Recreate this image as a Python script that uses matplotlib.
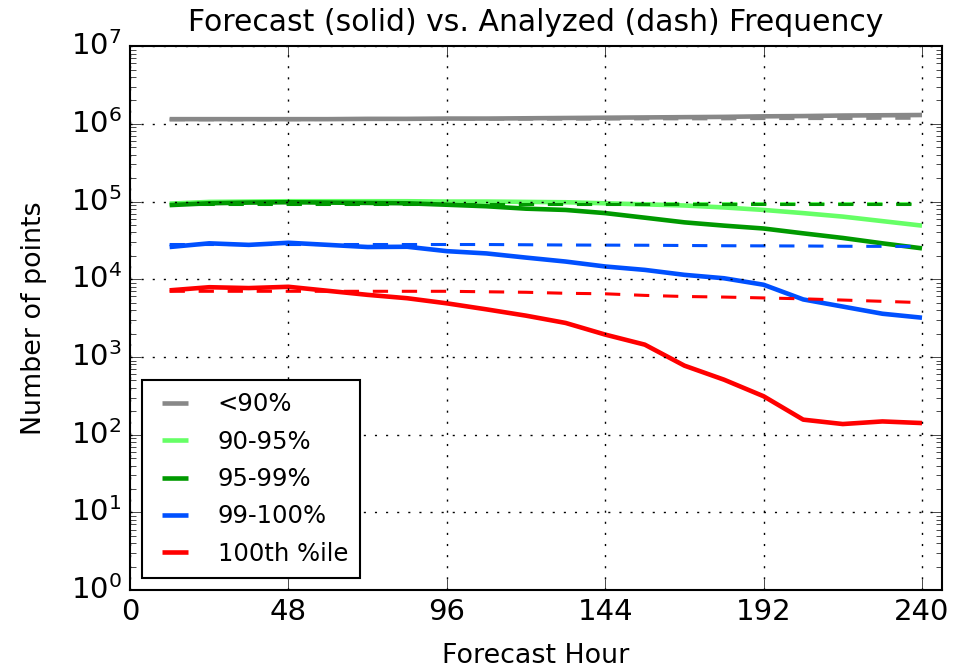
import matplotlib
matplotlib.use("Agg")
import matplotlib.pyplot as plt

plt.style.use("classic")
plt.rcParams["font.family"] = ["DejaVu Sans"]
plt.rcParams["lines.scale_dashes"] = True

# Forecast hours (x axis)
hours = [12, 24, 36, 48, 60, 72, 84, 96, 108, 120,
         132, 144, 156, 168, 180, 192, 204, 216, 228, 240]

labels = ["<90%", "90-95%", "95-99%", "99-100%", "100th %ile"]
colors = ["#888888", "#66ff66", "#009900", "#0050ff", "#ff0000"]

# Forecast counts (solid)
fc_lt90 = [1.15e6, 1.15e6, 1.15e6, 1.15e6, 1.15e6, 1.16e6, 1.16e6, 1.17e6, 1.17e6, 1.18e6,
           1.19e6, 1.20e6, 1.21e6, 1.22e6, 1.23e6, 1.25e6, 1.26e6, 1.28e6, 1.29e6, 1.30e6]
fc_90_95 = [9.4e4, 9.9e4, 1.0e5, 1.01e5, 1.01e5, 1.01e5, 1.01e5, 1.0e5, 1.0e5, 9.9e4,
            9.8e4, 9.5e4, 9.2e4, 8.9e4, 8.4e4, 7.8e4, 7.1e4, 6.4e4, 5.6e4, 4.9e4]
fc_95_99 = [9.0e4, 9.5e4, 9.7e4, 9.8e4, 9.7e4, 9.6e4, 9.5e4, 9.1e4, 8.7e4, 8.1e4,
            7.8e4, 7.1e4, 6.2e4, 5.4e4, 4.9e4, 4.5e4, 3.9e4, 3.4e4, 2.9e4, 2.5e4]
fc_99_100 = [2.6e4, 2.9e4, 2.77e4, 2.95e4, 2.77e4, 2.6e4, 2.62e4, 2.3e4, 2.15e4, 1.9e4,
             1.69e4, 1.46e4, 1.32e4, 1.14e4, 1.03e4, 8.5e3, 5.5e3, 4.45e3, 3.6e3, 3.2e3]
fc_100 = [7.2e3, 7.9e3, 7.7e3, 8.0e3, 7.1e3, 6.3e3, 5.7e3, 4.9e3, 4.1e3, 3.4e3,
          2.74e3, 1.94e3, 1.44e3, 773, 510, 312, 156, 137, 148, 141]

# Analyzed counts (dashed)
an_lt90 = [1.13e6, 1.13e6, 1.13e6, 1.13e6, 1.14e6, 1.14e6, 1.14e6, 1.14e6, 1.15e6, 1.15e6,
           1.15e6, 1.15e6, 1.16e6, 1.16e6, 1.16e6, 1.17e6, 1.17e6, 1.17e6, 1.18e6, 1.18e6]
an_90_95 = [9.6e4, 9.6e4, 9.6e4, 9.6e4, 9.6e4, 9.6e4, 9.6e4, 9.6e4, 9.6e4, 9.6e4,
            9.6e4, 9.6e4, 9.6e4, 9.6e4, 9.6e4, 9.6e4, 9.6e4, 9.6e4, 9.6e4, 9.6e4]
an_95_99 = [9.3e4, 9.3e4, 9.3e4, 9.3e4, 9.3e4, 9.3e4, 9.3e4, 9.3e4, 9.3e4, 9.3e4,
            9.3e4, 9.3e4, 9.3e4, 9.3e4, 9.3e4, 9.3e4, 9.3e4, 9.3e4, 9.3e4, 9.3e4]
an_99_100 = [2.8e4, 2.8e4, 2.8e4, 2.8e4, 2.8e4, 2.8e4, 2.8e4, 2.8e4, 2.8e4, 2.78e4,
             2.76e4, 2.75e4, 2.74e4, 2.72e4, 2.7e4, 2.69e4, 2.68e4, 2.66e4, 2.65e4, 2.65e4]
an_100 = [7.0e3, 7.0e3, 7.0e3, 7.0e3, 7.0e3, 7.0e3, 7.0e3, 7.0e3, 6.9e3, 6.8e3,
          6.6e3, 6.5e3, 6.2e3, 6.0e3, 5.9e3, 5.75e3, 5.6e3, 5.4e3, 5.2e3, 5.0e3]

forecast = [fc_lt90, fc_90_95, fc_95_99, fc_99_100, fc_100]
analyzed = [an_lt90, an_90_95, an_95_99, an_99_100, an_100]

fig = plt.figure(figsize=(9.63, 6.69), dpi=100, facecolor="white")
ax = fig.add_axes([0.135, 0.118, 0.843, 0.813])
ax.set_facecolor("white")

for lab, col, fc, an in zip(labels, colors, forecast, analyzed):
    ax.plot(hours, fc, color=col, lw=3.3, solid_capstyle="butt", label=lab)
    ax.plot(hours, an, color=col, lw=2.2, linestyle=(0, (5, 4.5)))

ax.set_yscale("log")
ax.set_xlim(0, 246)
ax.set_ylim(1, 1e7)
ax.set_xticks([0, 48, 96, 144, 192, 240])
ax.grid(True, which="major", color="black", linestyle=(0, (1.5, 6.5)), linewidth=1)
ax.tick_params(axis="both", which="major", labelsize=21, length=8, direction="in",
               top=True, right=True, pad=6)
ax.tick_params(axis="both", which="minor", length=4, direction="in", top=True, right=True)
for s in ax.spines.values():
    s.set_linewidth(1.5)

ax.set_title("Forecast (solid) vs. Analyzed (dash) Frequency", fontsize=21.5, pad=11)
ax.set_xlabel("Forecast Hour", fontsize=19.4, labelpad=12)
ax.set_ylabel("Number of points", fontsize=19.4, labelpad=17)

leg = ax.legend(loc="lower left", fontsize=17.5, handlelength=1.7, handletextpad=0.9,
                borderpad=0.5, labelspacing=0.55, borderaxespad=0.5,
                fancybox=False, frameon=True)
leg.get_frame().set_edgecolor("black")
leg.get_frame().set_linewidth(1.5)

fig.savefig("out.png", dpi=100, facecolor="white")
